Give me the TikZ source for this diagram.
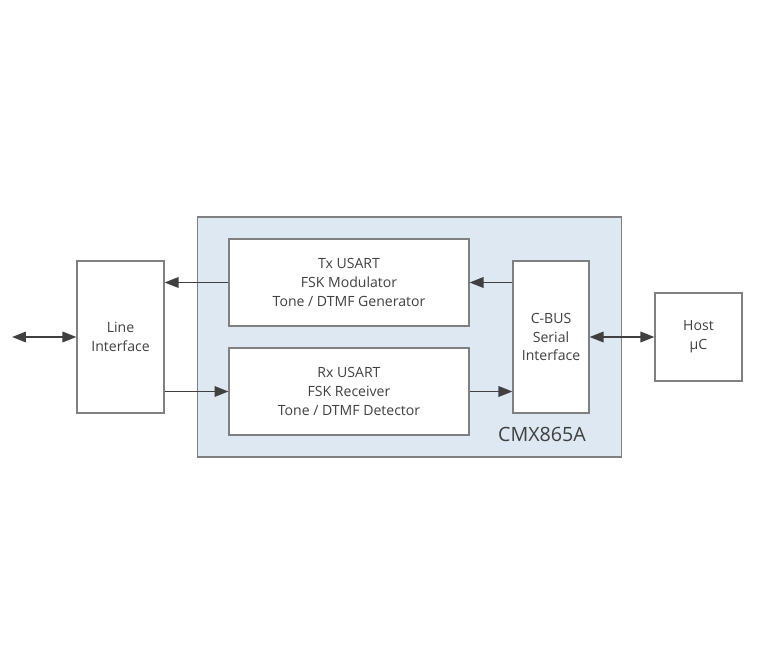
\documentclass[tikz,border=0pt]{standalone}
\usepackage{fontspec}
\setmainfont{Open Sans}
\usetikzlibrary{arrows.meta}
\definecolor{chipfill}{RGB}{222,232,242}
\definecolor{boxline}{RGB}{128,128,128}
\definecolor{ink}{RGB}{64,64,64}
\tikzset{every node/.style={text=ink, font=\fontsize{8}{10.8}\selectfont, align=center},
  blk/.style={draw=boxline, line width=0.6pt, fill=white, inner sep=0pt},
  arr/.style={draw=ink, line width=1pt, -{Triangle[length=0.28cm,width=0.21cm]}},
  darr/.style={draw=ink, line width=1pt, {Triangle[length=0.28cm,width=0.21cm]}-{Triangle[length=0.28cm,width=0.21cm]}}}

\begin{document}
\begin{tikzpicture}[x=0.02cm, y=-0.02cm]
  \useasboundingbox (0,0) rectangle (768,669);
  % chip outline
  \node[blk, fill=chipfill, minimum width=8.5cm, minimum height=4.8cm] (chip) at (409.5,337) {};
  \node[font=\fontsize{11.2}{13}\selectfont] (name) at (542,434) {CMX865A};
  % blocks
  \node[blk, minimum width=1.74cm, minimum height=3.04cm] (line) at (120.5,337) {Line\\Interface};
  \node[blk, minimum width=4.8cm, minimum height=1.74cm] (tx) at (349,282.5) {Tx USART\\FSK Modulator\\Tone / DTMF Generator};
  \node[blk, minimum width=4.8cm, minimum height=1.74cm] (rx) at (349,391.5) {Rx USART\\FSK Receiver\\Tone / DTMF Detector};
  \node[blk, minimum width=1.52cm, minimum height=3.04cm] (cbus) at (551,337) {C-BUS\\Serial\\Interface};
  \node[blk, minimum width=1.74cm, minimum height=1.76cm] (host) at (698.5,337) {Host\\µC};
  \coordinate (ext) at (12,337);
  % connectors
  \draw[darr] (ext) -- (line.west);
  \draw[arr] (tx.west) -- (tx.west -| line.east);
  \draw[arr] (rx.west -| line.east) -- (rx.west);
  \draw[arr] (tx.east -| cbus.west) -- (tx.east);
  \draw[arr] (rx.east) -- (rx.east -| cbus.west);
  \draw[darr] (cbus.east) -- (host.west);
\end{tikzpicture}
\end{document}
